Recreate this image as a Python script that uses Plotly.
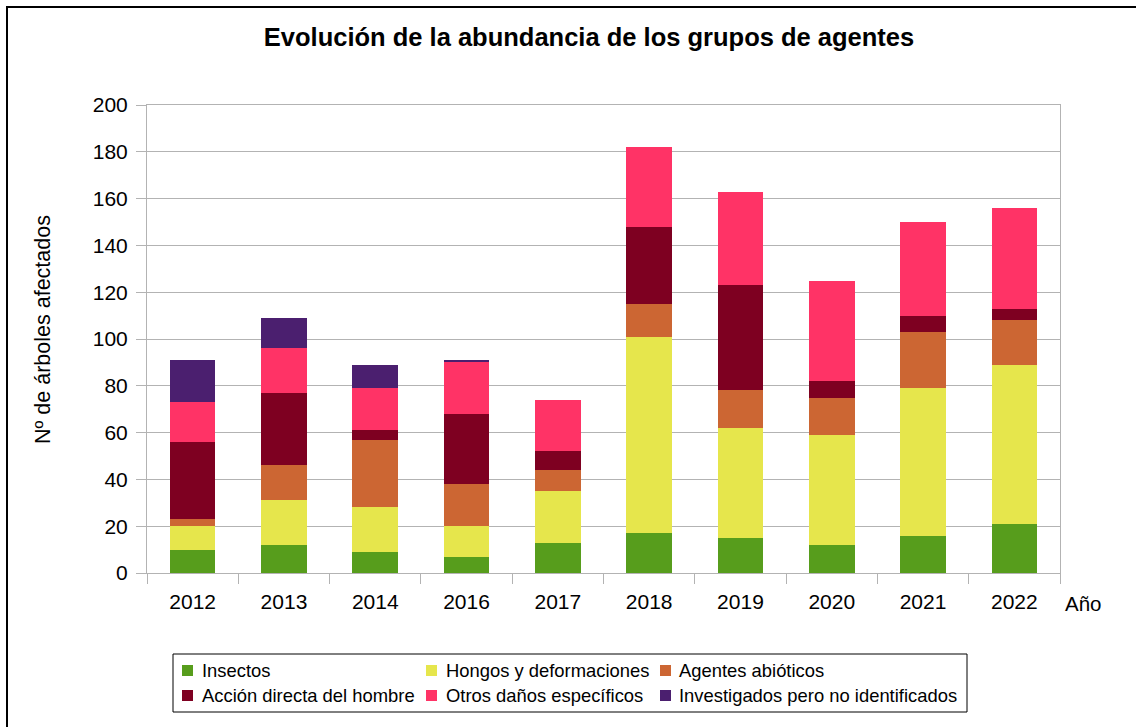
import plotly.graph_objects as go

years = ["2012", "2013", "2014", "2016", "2017", "2018", "2019", "2020", "2021", "2022"]

insectos = [10, 12, 9, 7, 13, 17, 15, 12, 16, 21]
hongos = [10, 19, 19, 13, 22, 84, 47, 47, 63, 68]
abioticos = [3, 15, 29, 18, 9, 14, 16, 16, 24, 19]
accion = [33, 31, 4, 30, 8, 33, 45, 7, 7, 5]
otros = [17, 19, 18, 22, 22, 34, 40, 43, 40, 43]
investigados = [18, 13, 10, 1, 0, 0, 0, 0, 0, 0]

series = [
    ("Insectos", insectos, "#579d1c"),
    ("Hongos y deformaciones", hongos, "#e6e64c"),
    ("Agentes abióticos", abioticos, "#cc6633"),
    ("Acción directa del hombre", accion, "#7e0021"),
    ("Otros daños específicos", otros, "#ff3366"),
    ("Investigados pero no identificados", investigados, "#4b1f6f"),
]

FONT = "Liberation Sans, Arial, sans-serif"
GRID = "#b3b3b3"

fig = go.Figure()
for name, vals, color in series:
    fig.add_trace(go.Bar(
        x=years, y=vals, name=name,
        marker=dict(color=color, line=dict(width=0)),
        showlegend=False,
    ))

# plot area in pixels: x 147..1060, y 105..573
L, R, T, B = 147, 1060, 105, 573
W, H = 1136, 727
pw, ph = R - L, B - T


def px_x(p):
    return (p - L) / pw


def px_y(p):
    return (B - p) / ph


fig.update_layout(
    width=W, height=H,
    margin=dict(l=L, r=W - R, t=T, b=H - B, pad=0),
    barmode="stack",
    bargap=0.5,
    paper_bgcolor="white",
    plot_bgcolor="white",
    font=dict(family=FONT, size=21, color="black"),
    title=dict(
        text="<b>Evolución de la abundancia de los grupos de agentes</b>",
        font=dict(size=25.5, color="black"),
        xref="paper", x=px_x(589), xanchor="center",
        yref="container", y=1 - 37 / H, yanchor="middle",
    ),
)

fig.update_xaxes(
    type="category",
    showline=True, linecolor=GRID, linewidth=1, mirror=True,
    ticks="outside", tickson="boundaries", ticklen=10, tickcolor=GRID,
    showgrid=False,
    tickfont=dict(size=21),
    ticklabelstandoff=10,
)
fig.update_yaxes(
    range=[0, 200], dtick=20,
    showline=True, linecolor=GRID, linewidth=1, mirror=True,
    ticks="outside", ticklen=10, tickcolor=GRID,
    showgrid=True, gridcolor=GRID, gridwidth=1,
    zeroline=False,
    tickfont=dict(size=21),
    ticklabelstandoff=4,
)

fig.add_annotation(
    text="Nº de árboles afectados", textangle=-90,
    xref="paper", yref="paper", x=px_x(43), y=px_y(330),
    xanchor="center", yanchor="middle",
    showarrow=False, font=dict(size=21.5),
)
fig.add_annotation(
    text="Año",
    xref="paper", yref="paper", x=px_x(1083), y=px_y(603),
    xanchor="center", yanchor="middle",
    showarrow=False, font=dict(size=20.5),
)

# legend box, laid out like the original: 3 columns x 2 rows
fig.add_shape(
    type="rect", xref="paper", yref="paper",
    x0=px_x(173), y0=px_y(712), x1=px_x(967), y1=px_y(654),
    line=dict(color="black", width=1), fillcolor="white", layer="below",
)
col_marker = [182, 426, 660]
col_text = [200, 444, 677]
row_y = [670.5, 695.5]
for i, (name, _, color) in enumerate(series):
    r, c = divmod(i, 3)
    fig.add_shape(
        type="rect", xref="paper", yref="paper",
        x0=px_x(col_marker[c]), x1=px_x(col_marker[c] + 11),
        y0=px_y(row_y[r] + 5.5), y1=px_y(row_y[r] - 5.5),
        line=dict(width=0), fillcolor=color,
    )
    fig.add_annotation(
        text=name, xref="paper", yref="paper",
        x=px_x(col_text[c]), y=px_y(row_y[r]),
        xanchor="left", yanchor="middle", showarrow=False,
        font=dict(size=18.4),
    )

# outer frame (only the left and top edges fall inside the picture)
fig.add_shape(
    type="rect", xref="paper", yref="paper",
    x0=px_x(7), y0=px_y(760), x1=px_x(1170), y1=px_y(7),
    line=dict(color="black", width=2), fillcolor="rgba(0,0,0,0)", layer="below",
)

fig.write_html(
    "out.html",
    config={"displayModeBar": False},
    post_script="document.body.style.margin = '0';",
)
